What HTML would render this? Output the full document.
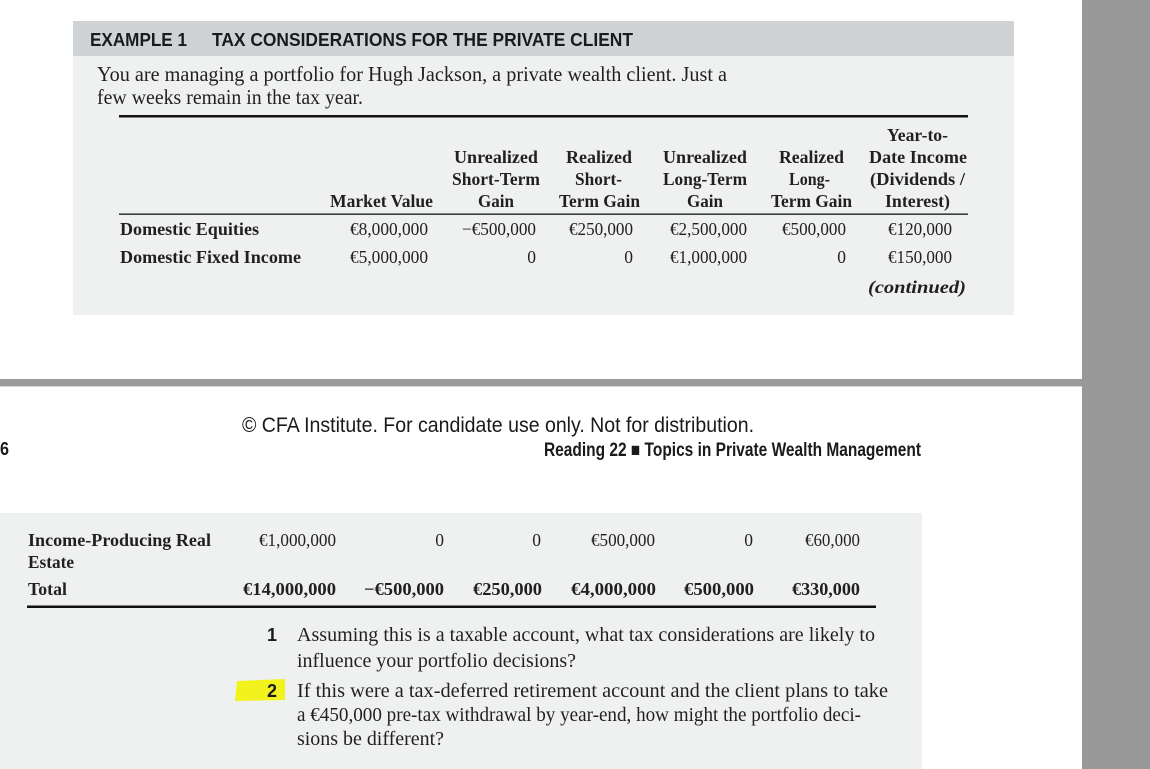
<!DOCTYPE html>
<html>
<head>
<meta charset="utf-8">
<style>
html,body{margin:0;padding:0;background:#fff;}
svg{display:block;}
.sr{font-family:"Liberation Serif",serif;fill:#231f20;}
.sb{font-family:"Liberation Serif",serif;font-weight:bold;fill:#231f20;}
.ss{font-family:"Liberation Sans",sans-serif;fill:#1a1a1a;}
.ssb{font-family:"Liberation Sans",sans-serif;font-weight:bold;fill:#1a1a1a;}
</style>
</head>
<body>
<svg width="1150" height="769" viewBox="0 0 1150 769" xmlns="http://www.w3.org/2000/svg">
<rect x="0" y="0" width="1150" height="769" fill="#ffffff"/>

<!-- Top box -->
<rect x="73" y="21" width="941" height="294" fill="#eff1f1"/>
<rect x="73" y="21" width="941" height="35" fill="#d0d3d5"/>
<text class="ssb" x="90" y="46" font-size="18" textLength="97" lengthAdjust="spacingAndGlyphs">EXAMPLE 1</text>
<text class="ssb" x="212" y="46" font-size="18" textLength="421" lengthAdjust="spacingAndGlyphs">TAX CONSIDERATIONS FOR THE PRIVATE CLIENT</text>
<text class="sr" x="97" y="81" font-size="21" textLength="630" lengthAdjust="spacingAndGlyphs">You are managing a portfolio for Hugh Jackson, a private wealth client. Just a</text>
<text class="sr" x="97" y="104" font-size="21" textLength="266" lengthAdjust="spacingAndGlyphs">few weeks remain in the tax year.</text>
<rect x="119" y="115" width="849" height="2.5" fill="#111"/>

<g class="sb" font-size="17.5">
<text x="887" y="141" textLength="61" lengthAdjust="spacingAndGlyphs">Year-to-</text>
<text x="454" y="163" textLength="84" lengthAdjust="spacingAndGlyphs">Unrealized</text>
<text x="566" y="163" textLength="66" lengthAdjust="spacingAndGlyphs">Realized</text>
<text x="663" y="163" textLength="84" lengthAdjust="spacingAndGlyphs">Unrealized</text>
<text x="779" y="163" textLength="65" lengthAdjust="spacingAndGlyphs">Realized</text>
<text x="869" y="163" textLength="98" lengthAdjust="spacingAndGlyphs">Date Income</text>
<text x="452" y="185" textLength="88" lengthAdjust="spacingAndGlyphs">Short-Term</text>
<text x="575" y="185" textLength="47" lengthAdjust="spacingAndGlyphs">Short-</text>
<text x="663" y="185" textLength="84" lengthAdjust="spacingAndGlyphs">Long-Term</text>
<text x="789" y="185" textLength="41" lengthAdjust="spacingAndGlyphs">Long-</text>
<text x="870" y="185" textLength="95" lengthAdjust="spacingAndGlyphs">(Dividends /</text>
<text x="330" y="207" textLength="103" lengthAdjust="spacingAndGlyphs">Market Value</text>
<text x="478" y="207" textLength="36" lengthAdjust="spacingAndGlyphs">Gain</text>
<text x="559" y="207" textLength="81" lengthAdjust="spacingAndGlyphs">Term Gain</text>
<text x="687" y="207" textLength="36" lengthAdjust="spacingAndGlyphs">Gain</text>
<text x="771" y="207" textLength="81" lengthAdjust="spacingAndGlyphs">Term Gain</text>
<text x="885" y="207" textLength="65" lengthAdjust="spacingAndGlyphs">Interest)</text>
</g>
<rect x="119" y="213.5" width="849" height="1.3" fill="#111"/>

<text class="sb" x="120" y="235" font-size="17.5" textLength="139" lengthAdjust="spacingAndGlyphs">Domestic Equities</text>
<g class="sr" font-size="17.5">
<text x="350" y="235" textLength="78" lengthAdjust="spacingAndGlyphs">€8,000,000</text>
<text x="462" y="235" textLength="74" lengthAdjust="spacingAndGlyphs">−€500,000</text>
<text x="569" y="235" textLength="64" lengthAdjust="spacingAndGlyphs">€250,000</text>
<text x="670" y="235" textLength="77" lengthAdjust="spacingAndGlyphs">€2,500,000</text>
<text x="782" y="235" textLength="64" lengthAdjust="spacingAndGlyphs">€500,000</text>
<text x="888" y="235" textLength="64" lengthAdjust="spacingAndGlyphs">€120,000</text>
</g>
<text class="sb" x="120" y="263" font-size="17.5" textLength="181" lengthAdjust="spacingAndGlyphs">Domestic Fixed Income</text>
<g class="sr" font-size="17.5">
<text x="350" y="263" textLength="78" lengthAdjust="spacingAndGlyphs">€5,000,000</text>
<text x="536" y="263" text-anchor="end">0</text>
<text x="633" y="263" text-anchor="end">0</text>
<text x="670" y="263" textLength="77" lengthAdjust="spacingAndGlyphs">€1,000,000</text>
<text x="846" y="263" text-anchor="end">0</text>
<text x="888" y="263" textLength="64" lengthAdjust="spacingAndGlyphs">€150,000</text>
</g>
<text class="sb" x="868" y="293" font-size="18" font-style="italic" textLength="98" lengthAdjust="spacingAndGlyphs">(continued)</text>

<!-- Separator and right bar -->
<rect x="0" y="379" width="1082" height="7" fill="#9b9b9b"/>
<rect x="0" y="386" width="1082" height="1" fill="#d6d6d6"/>
<rect x="1082" y="0" width="68" height="769" fill="#999999"/>

<!-- Footer -->
<text class="ss" x="242" y="432" font-size="21" textLength="512" lengthAdjust="spacingAndGlyphs">© CFA Institute. For candidate use only. Not for distribution.</text>
<text class="ssb" x="0" y="455" font-size="18" textLength="9" lengthAdjust="spacingAndGlyphs">6</text>
<text class="ssb" x="544" y="456" font-size="19" textLength="377" lengthAdjust="spacingAndGlyphs">Reading 22 ■ Topics in Private Wealth Management</text>

<!-- Bottom box -->
<rect x="0" y="513" width="922" height="256" fill="#eff1f1"/>
<g class="sb" font-size="18">
<text x="28" y="546" textLength="183" lengthAdjust="spacingAndGlyphs">Income-Producing Real</text>
<text x="28" y="568" textLength="46" lengthAdjust="spacingAndGlyphs">Estate</text>
<text x="28" y="595" textLength="39" lengthAdjust="spacingAndGlyphs">Total</text>
</g>
<g class="sr" font-size="17.5">
<text x="259" y="546" textLength="77" lengthAdjust="spacingAndGlyphs">€1,000,000</text>
<text x="444" y="546" text-anchor="end">0</text>
<text x="541" y="546" text-anchor="end">0</text>
<text x="591" y="546" textLength="64" lengthAdjust="spacingAndGlyphs">€500,000</text>
<text x="753" y="546" text-anchor="end">0</text>
<text x="805" y="546" textLength="55" lengthAdjust="spacingAndGlyphs">€60,000</text>
</g>
<g class="sb" font-size="17.5">
<text x="243" y="595" textLength="93" lengthAdjust="spacingAndGlyphs">€14,000,000</text>
<text x="364" y="595" textLength="80" lengthAdjust="spacingAndGlyphs">−€500,000</text>
<text x="473" y="595" textLength="69" lengthAdjust="spacingAndGlyphs">€250,000</text>
<text x="571" y="595" textLength="85" lengthAdjust="spacingAndGlyphs">€4,000,000</text>
<text x="684" y="595" textLength="70" lengthAdjust="spacingAndGlyphs">€500,000</text>
<text x="792" y="595" textLength="68" lengthAdjust="spacingAndGlyphs">€330,000</text>
</g>
<rect x="27" y="605.5" width="849" height="2.5" fill="#111"/>

<!-- Questions -->
<polygon points="237,681 285,679 285,700 235,701" fill="#f2f21c"/>
<text class="ssb" x="277" y="641" font-size="18" text-anchor="end">1</text>
<text class="ssb" x="277" y="697" font-size="18" text-anchor="end">2</text>
<g class="sr" font-size="20">
<text x="297" y="641" textLength="578" lengthAdjust="spacingAndGlyphs">Assuming this is a taxable account, what tax considerations are likely to</text>
<text x="297" y="667" textLength="279" lengthAdjust="spacingAndGlyphs">influence your portfolio decisions?</text>
<text x="297" y="697" textLength="591" lengthAdjust="spacingAndGlyphs">If this were a tax-deferred retirement account and the client plans to take</text>
<text x="297" y="721" textLength="564" lengthAdjust="spacingAndGlyphs">a €450,000 pre-tax withdrawal by year-end, how might the portfolio deci-</text>
<text x="297" y="745" textLength="147" lengthAdjust="spacingAndGlyphs">sions be different?</text>
</g>
</svg>
</body>
</html>
